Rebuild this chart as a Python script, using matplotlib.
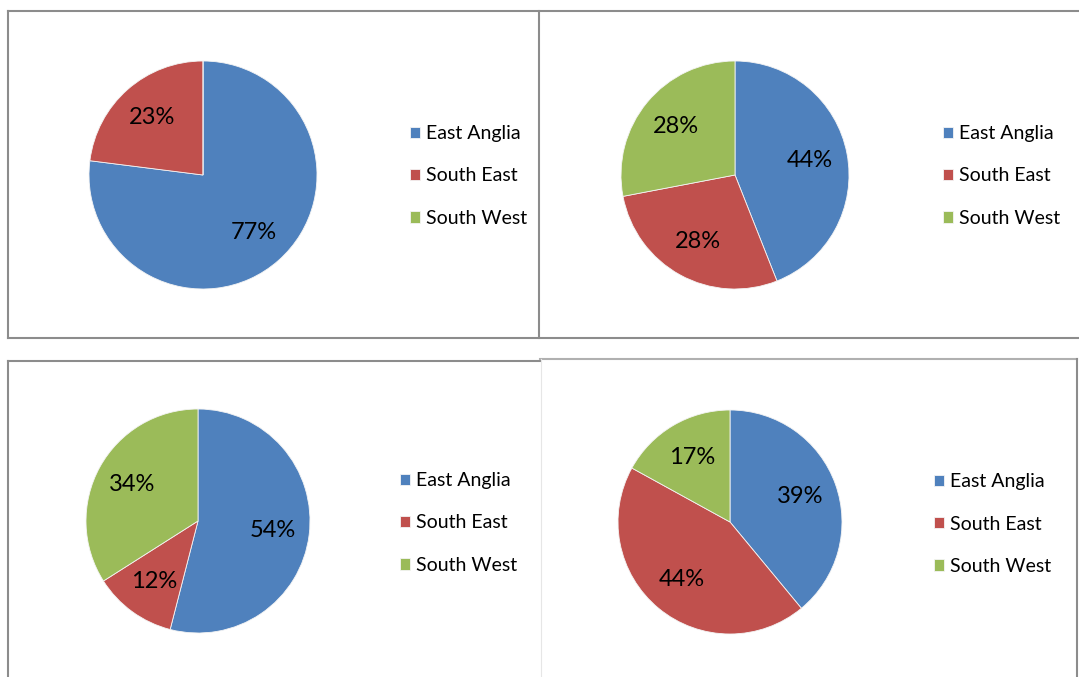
import matplotlib.pyplot as plt
from matplotlib.lines import Line2D

W, H = 1079, 677

regions = ['East Anglia', 'South East', 'South West']
colors = ['#4F81BD', '#C0504D', '#9BBB59']

top_left = [77, 23, 0]
top_right = [44, 28, 28]
bottom_left = [54, 12, 34]
bottom_right = [39, 44, 17]

plt.rcParams['font.family'] = ['Lato', 'DejaVu Sans']

fig = plt.figure(figsize=(W / 100, H / 100), dpi=100)


def pct_label(p):
    return '' if p < 0.5 else '%d%%' % round(p)


def draw_panel(values, cx, cy, r, lx, ly):
    ax = fig.add_axes([(cx - r) / W, 1 - (cy + r) / H, 2 * r / W, 2 * r / H])
    wedges, _, _ = ax.pie(values, colors=colors, startangle=90, counterclock=False,
                          autopct=pct_label, pctdistance=0.67,
                          wedgeprops=dict(edgecolor='#f4f4f4', linewidth=0.6),
                          textprops=dict(fontsize=17, color='black'))
    ax.set_xlim(-1, 1)
    ax.set_ylim(-1, 1)
    ax.axis('off')
    fig.legend(wedges, regions, loc='center left', bbox_to_anchor=(lx / W, 1 - ly / H),
               frameon=False, fontsize=14, handlelength=0.52, handleheight=0.52,
               handletextpad=0.32, labelspacing=1.3, borderpad=0, borderaxespad=0)


def line(x0, y0, x1, y1, color='#8c8c8c', lw=1.5):
    fig.add_artist(Line2D([x0 / W, x1 / W], [1 - y0 / H, 1 - y1 / H],
                          color=color, linewidth=lw, transform=fig.transFigure))


# panel borders
line(8, 11, 1079, 11)
line(8, 11, 8, 338)
line(539, 11, 539, 338)
line(8, 338, 1079, 338)
line(8, 360.5, 540, 360.5)
line(8, 360.5, 8, 677)
line(540, 359.5, 1077, 359.5, color='#b0b0b0')
line(541, 359.5, 541, 677, color='#e6e6e6', lw=0.8)
line(1077, 359.5, 1077, 677)

draw_panel(top_left, 203, 175, 114, 410, 176)
draw_panel(top_right, 735, 175, 114, 943, 176)
draw_panel(bottom_left, 198, 521, 112, 400, 523)
draw_panel(bottom_right, 730, 522, 112, 934, 524)

plt.savefig('out.png', dpi=100)
